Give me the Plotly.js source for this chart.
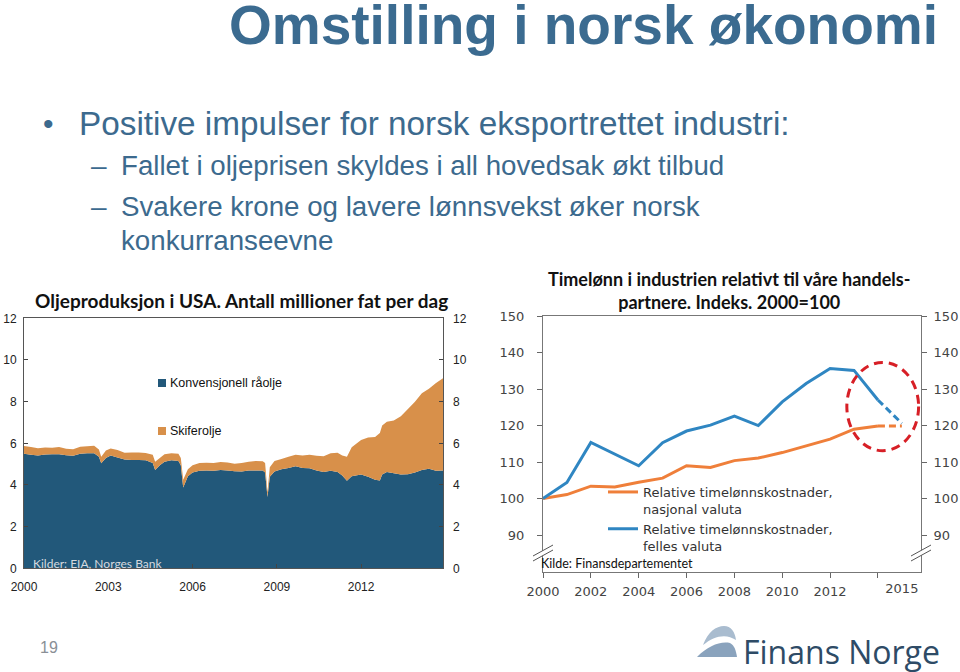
<!DOCTYPE html>
<html>
<head>
<meta charset="utf-8">
<script src="https://cdn.plot.ly/plotly-3.0.1.min.js"></script>
<style>html,body{margin:0;padding:0;background:#fff;}#chart{width:960px;height:672px;}</style>
</head>
<body>
<div id="chart"></div>
<script>
// ---------- Left chart: US oil production (million barrels per day) ----------
const oilDates = ['2000-01','2000-04','2000-07','2000-10','2001-01','2001-04','2001-07','2001-10',
  '2002-01','2002-04','2002-07','2002-09','2002-10','2002-12','2003-02','2003-05','2003-08','2003-11',
  '2004-02','2004-05','2004-08','2004-09','2004-11','2005-01','2005-04','2005-07','2005-08','2005-09',
  '2005-11','2006-01','2006-04','2006-07','2006-10','2007-01','2007-04','2007-07','2007-10','2008-01',
  '2008-04','2008-07','2008-08','2008-09','2008-10','2008-12','2009-03','2009-06','2009-09','2009-12',
  '2010-03','2010-06','2010-09','2010-12','2011-03','2011-05','2011-07','2011-09','2012-01','2012-04',
  '2012-07','2012-09','2012-10','2012-12','2013-03','2013-06','2013-09','2013-12','2014-03','2014-06',
  '2014-09','2014-12'];
const conventional = [5.50,5.45,5.41,5.46,5.48,5.47,5.43,5.40,
  5.50,5.52,5.52,5.35,5.04,5.30,5.42,5.32,5.22,5.20,
  5.20,5.19,5.06,4.72,4.95,5.12,5.19,5.15,4.95,3.88,
  4.42,4.60,4.68,4.70,4.68,4.72,4.70,4.66,4.65,4.70,
  4.70,4.69,4.60,3.42,4.40,4.65,4.75,4.82,4.90,4.82,
  4.80,4.70,4.62,4.68,4.62,4.45,4.20,4.42,4.50,4.40,
  4.25,4.22,4.50,4.62,4.56,4.50,4.52,4.60,4.72,4.78,
  4.68,4.70];
const shale = [0.37,0.37,0.35,0.34,0.31,0.35,0.31,0.32,
  0.34,0.34,0.36,0.35,0.32,0.35,0.33,0.36,0.33,0.36,
  0.36,0.35,0.39,0.40,0.35,0.36,0.33,0.35,0.35,0.37,
  0.33,0.35,0.37,0.37,0.38,0.38,0.38,0.36,0.40,0.42,
  0.45,0.45,0.45,0.23,0.45,0.50,0.50,0.53,0.55,0.60,
  0.65,0.70,0.76,0.84,0.93,0.97,1.16,1.39,1.66,1.88,
  2.05,2.28,2.35,2.42,2.54,2.80,3.13,3.40,3.68,3.84,
  4.22,4.42];
const oilTickVals = ['2000-01-01','2003-01-01','2006-01-01','2009-01-01','2012-01-01'];
const oilTickText = ['2000','2003','2006','2009','2012'];
const oilYTicks = [0,2,4,6,8,10,12];

// ---------- Right chart: relative hourly wages, index 2000=100 ----------
const wageYears = [2000,2001,2002,2003,2004,2005,2006,2007,2008,2009,2010,2011,2012,2013,2014];
const nasjonalValuta = [100,101.1,103.4,103.2,104.5,105.6,109.0,108.5,110.4,111.1,112.6,114.5,116.3,119.0,119.9];
const fellesValuta = [100,104.4,115.4,112.1,109.0,115.3,118.5,120.1,122.6,120.0,126.5,131.5,135.6,135.1,127.0];
const progYears = [2014,2015];
const nasjonalProg = [119.9,119.9];
const fellesProg = [127.0,120.6];
const wageXTicks = [2000,2002,2004,2006,2008,2010,2012,2014];
const wageXText = ['2000','2002','2004','2006','2008','2010','2012',''];
const wageLastLabel = [2015];
const wageYTicks = [90,100,110,120,130,140,150];

// ---------- helpers (pixel -> paper) ----------
const W = 960, H = 672;
const px = x => x / W;
const py = y => 1 - y / H;
const P = s => s.replace(/(-?\d+\.?\d*),(-?\d+\.?\d*)/g, (m, a, b) => (a / W).toFixed(5) + ',' + (1 - b / H).toFixed(5));

const NARROW = "'Liberation Sans Narrow', 'Arial Narrow', 'Liberation Sans', Arial, sans-serif";
const CAL = "Lato, 'Open Sans', sans-serif";
const DV = "'DejaVu Sans', Verdana, sans-serif";
const ARIAL = "'Liberation Sans', Arial, sans-serif";
const BLUE_SLIDE = '#3c6a8e';
const OIL_BLUE = '#22587a';
const OIL_ORANGE = '#d8904a';
const W_ORANGE = '#ef7f3a';
const W_BLUE = '#2f86c2';

const traces = [
  {x: oilDates, y: conventional, type: 'scatter', mode: 'none', stackgroup: 'oil',
   fillcolor: OIL_BLUE, name: 'Konvensjonell råolje', xaxis: 'x', yaxis: 'y', showlegend: false, hoverinfo: 'skip'},
  {x: oilDates, y: shale, type: 'scatter', mode: 'none', stackgroup: 'oil',
   fillcolor: OIL_ORANGE, name: 'Skiferolje', xaxis: 'x', yaxis: 'y', showlegend: false, hoverinfo: 'skip'},
  {x: wageYears, y: nasjonalValuta, type: 'scatter', mode: 'lines', xaxis: 'x2', yaxis: 'y2',
   line: {color: W_ORANGE, width: 3}, name: 'Relative timelønnskostnader,<br>nasjonal valuta'},
  {x: wageYears, y: fellesValuta, type: 'scatter', mode: 'lines', xaxis: 'x2', yaxis: 'y2',
   line: {color: W_BLUE, width: 3}, name: 'Relative timelønnskostnader,<br>felles valuta'},
  {x: progYears, y: nasjonalProg, type: 'scatter', mode: 'lines', xaxis: 'x2', yaxis: 'y2',
   line: {color: W_ORANGE, width: 3, dash: '7px,4px'}, showlegend: false},
  {x: progYears, y: fellesProg, type: 'scatter', mode: 'lines', xaxis: 'x2', yaxis: 'y2',
   line: {color: W_BLUE, width: 3, dash: '7px,4px'}, showlegend: false},
  // empty helper traces so the mirrored tick-label axes get drawn
  {x: [], y: [], type: 'scatter', mode: 'lines', xaxis: 'x', yaxis: 'y3', showlegend: false, hoverinfo: 'skip'},
  {x: [], y: [], type: 'scatter', mode: 'lines', xaxis: 'x2', yaxis: 'y4', showlegend: false, hoverinfo: 'skip'},
  {x: [], y: [], type: 'scatter', mode: 'lines', xaxis: 'x4', yaxis: 'y2', showlegend: false, hoverinfo: 'skip'}
];

const oilTickFont = {family: NARROW, size: 12, color: '#222'};
const wageTickFont = {family: DV, size: 13, color: '#444'};

const layout = {
  width: W, height: H, autosize: false,
  margin: {l: 0, r: 0, t: 0, b: 0, pad: 0},
  paper_bgcolor: '#fff', plot_bgcolor: 'rgba(0,0,0,0)',
  showlegend: true,
  legend: {x: px(603), y: py(477), xanchor: 'left', yanchor: 'top', valign: 'top',
    font: {family: DV, size: 13, color: '#333'}, bgcolor: 'rgba(0,0,0,0)', tracegroupgap: 0,
    traceorder: 'normal'},
  xaxis: {domain: [px(24), px(443)], anchor: 'y', type: 'date', range: ['2000-01-01', '2014-12-01'],
    tickmode: 'array', tickvals: oilTickVals, ticktext: oilTickText, ticks: 'inside', ticklen: 4,
    tickcolor: '#444', showline: true, mirror: true, linecolor: '#555', linewidth: 1,
    showgrid: false, zeroline: false, tickfont: oilTickFont, ticklabelstandoff: 7, fixedrange: true},
  yaxis: {domain: [py(568.3), py(318.3)], anchor: 'x', range: [0, 12], tickmode: 'array', tickvals: oilYTicks,
    ticks: 'inside', ticklen: 4, tickcolor: '#444', showline: true, mirror: true, linecolor: '#555', linewidth: 1,
    showgrid: false, zeroline: false, tickfont: oilTickFont, ticklabelstandoff: 4, fixedrange: true},
  yaxis3: {overlaying: 'y', side: 'right', anchor: 'x', range: [0, 12], tickmode: 'array', tickvals: oilYTicks,
    ticks: 'inside', ticklen: 4, tickcolor: '#444', showline: false, showgrid: false, zeroline: false,
    tickfont: oilTickFont, ticklabelstandoff: 9, fixedrange: true},
  xaxis2: {domain: [px(543), px(921)], anchor: 'y2', range: [2000, 2015.8], tickmode: 'array',
    tickvals: wageXTicks, ticktext: wageXText, ticks: 'outside', ticklen: 5, tickcolor: '#666',
    showline: true, mirror: true, linecolor: '#777', linewidth: 1, showgrid: false, zeroline: false,
    tickfont: wageTickFont, ticklabelstandoff: 2, fixedrange: true},
  xaxis4: {overlaying: 'x2', anchor: 'y2', side: 'bottom', range: [2000, 2015.8], tickmode: 'array',
    tickvals: wageLastLabel, ticktext: wageLastLabel.map(String), ticks: '', showline: false, showgrid: false, zeroline: false,
    tickfont: wageTickFont, ticklabelstandoff: 7, fixedrange: true},
  yaxis2: {domain: [py(572), py(316)], anchor: 'x2', range: [79.9, 150], tickmode: 'array', tickvals: wageYTicks,
    ticks: 'outside', ticklen: 5, tickcolor: '#666', showline: true, mirror: true, linecolor: '#777', linewidth: 1,
    showgrid: false, zeroline: false, tickfont: wageTickFont, ticklabelstandoff: 10, fixedrange: true},
  yaxis4: {overlaying: 'y2', side: 'right', anchor: 'x2', range: [79.9, 150], tickmode: 'array', tickvals: wageYTicks,
    ticks: 'outside', ticklen: 5, tickcolor: '#666', showline: false, showgrid: false, zeroline: false,
    tickfont: wageTickFont, ticklabelstandoff: 4, fixedrange: true},
  shapes: [
    {type: 'circle', xref: 'x2', yref: 'y2', x0: 2012.7, x1: 2015.7, y0: 113.1, y1: 137.3,
     line: {color: '#d71f26', width: 3, dash: '9px,6px'}, layer: 'above'},
    {type: 'path', xref: 'paper', yref: 'paper', path: P('M533,556 L553,545 L553,550 L533,561 Z'), fillcolor: '#fff', line: {width: 0}},
    {type: 'line', xref: 'paper', yref: 'paper', x0: px(533), y0: py(556), x1: px(553), y1: py(545), line: {color: '#555', width: 1}},
    {type: 'line', xref: 'paper', yref: 'paper', x0: px(533), y0: py(561), x1: px(553), y1: py(550), line: {color: '#555', width: 1}},
    {type: 'path', xref: 'paper', yref: 'paper', path: P('M911,556 L931,545 L931,550 L911,561 Z'), fillcolor: '#fff', line: {width: 0}},
    {type: 'line', xref: 'paper', yref: 'paper', x0: px(911), y0: py(556), x1: px(931), y1: py(545), line: {color: '#555', width: 1}},
    {type: 'line', xref: 'paper', yref: 'paper', x0: px(911), y0: py(561), x1: px(931), y1: py(550), line: {color: '#555', width: 1}},
    {type: 'rect', xref: 'paper', yref: 'paper', x0: px(158), x1: px(166), y0: py(387), y1: py(379), fillcolor: OIL_BLUE, line: {width: 0}},
    {type: 'rect', xref: 'paper', yref: 'paper', x0: px(158), x1: px(166), y0: py(435), y1: py(427), fillcolor: OIL_ORANGE, line: {width: 0}},
    {type: 'path', xref: 'paper', yref: 'paper', path: P('M703,645 C708,632 716,626 724,626 C731,626 735,632 736,640 C726,633 714,636 703,645 Z'),
     fillcolor: '#a9bccf', line: {width: 0}},
    {type: 'path', xref: 'paper', yref: 'paper', path: P('M697,657 C708,646 720,641 730,643 C734,645 736,650 737,657 Z'),
     fillcolor: '#8aa3bd', line: {width: 0}}
  ],
  annotations: [
    {xref: 'paper', yref: 'paper', x: px(940), y: py(25), xanchor: 'right', yanchor: 'middle', showarrow: false,
     text: '<b>Omstilling i norsk økonomi</b>', font: {family: ARIAL, size: 55, color: '#3b6b90'}},
    {xref: 'paper', yref: 'paper', x: px(48), y: py(123), xanchor: 'center', yanchor: 'middle', showarrow: false,
     text: '•', font: {family: ARIAL, size: 30, color: BLUE_SLIDE}},
    {xref: 'paper', yref: 'paper', x: px(77), y: py(123), xanchor: 'left', yanchor: 'middle', showarrow: false,
     text: 'Positive impulser for norsk eksportrettet industri:', font: {family: ARIAL, size: 33.3, color: BLUE_SLIDE}},
    {xref: 'paper', yref: 'paper', x: px(89), y: py(165), xanchor: 'left', yanchor: 'middle', showarrow: false,
     text: '–', font: {family: ARIAL, size: 28, color: BLUE_SLIDE}},
    {xref: 'paper', yref: 'paper', x: px(119), y: py(165), xanchor: 'left', yanchor: 'middle', showarrow: false,
     text: 'Fallet i oljeprisen skyldes i all hovedsak økt tilbud', font: {family: ARIAL, size: 27.7, color: BLUE_SLIDE}},
    {xref: 'paper', yref: 'paper', x: px(89), y: py(206), xanchor: 'left', yanchor: 'middle', showarrow: false,
     text: '–', font: {family: ARIAL, size: 28, color: BLUE_SLIDE}},
    {xref: 'paper', yref: 'paper', x: px(119), y: py(206), xanchor: 'left', yanchor: 'middle', showarrow: false,
     text: 'Svakere krone og lavere lønnsvekst øker norsk', font: {family: ARIAL, size: 27.7, color: BLUE_SLIDE}},
    {xref: 'paper', yref: 'paper', x: px(119), y: py(240), xanchor: 'left', yanchor: 'middle', showarrow: false,
     text: 'konkurranseevne', font: {family: ARIAL, size: 27.7, color: BLUE_SLIDE}},
    {xref: 'paper', yref: 'paper', x: px(241), y: py(300), xanchor: 'center', yanchor: 'middle', showarrow: false,
     text: '<b>Oljeproduksjon i USA. Antall millioner fat per dag</b>', font: {family: CAL, size: 19, color: '#111'}},
    {xref: 'paper', yref: 'paper', x: px(729), y: py(290), xanchor: 'center', yanchor: 'middle', showarrow: false,
     text: '<b>Timelønn i industrien relativt til våre handels-<br>partnere. Indeks. 2000=100</b>',
     font: {family: CAL, size: 18, color: '#111'}},
    {xref: 'paper', yref: 'paper', x: px(168), y: py(383), xanchor: 'left', yanchor: 'middle', showarrow: false,
     text: 'Konvensjonell råolje', font: {family: NARROW, size: 12.5, color: '#111'}},
    {xref: 'paper', yref: 'paper', x: px(168), y: py(431), xanchor: 'left', yanchor: 'middle', showarrow: false,
     text: 'Skiferolje', font: {family: NARROW, size: 12.5, color: '#111'}},
    {xref: 'paper', yref: 'paper', x: px(31), y: py(563), xanchor: 'left', yanchor: 'middle', showarrow: false,
     text: 'Kilder: EIA, Norges Bank', font: {family: CAL, size: 12, color: '#d5d9de'}},
    {xref: 'paper', yref: 'paper', x: px(539), y: py(563), xanchor: 'left', yanchor: 'middle', showarrow: false,
     text: 'Kilde: Finansdepartementet', font: {family: CAL, size: 12.5, color: '#111'}},
    {xref: 'paper', yref: 'paper', x: px(49), y: py(647), xanchor: 'center', yanchor: 'middle', showarrow: false,
     text: '19', font: {family: ARIAL, size: 16, color: '#8a8f96'}},
    {xref: 'paper', yref: 'paper', x: px(741), y: py(651), xanchor: 'left', yanchor: 'middle', showarrow: false,
     text: 'Finans Norge', font: {family: "'Open Sans', sans-serif", size: 32, color: '#2e4b66'}}
  ]
};

Plotly.newPlot('chart', traces, layout, {staticPlot: true, displayModeBar: false});
</script>
</body>
</html>
